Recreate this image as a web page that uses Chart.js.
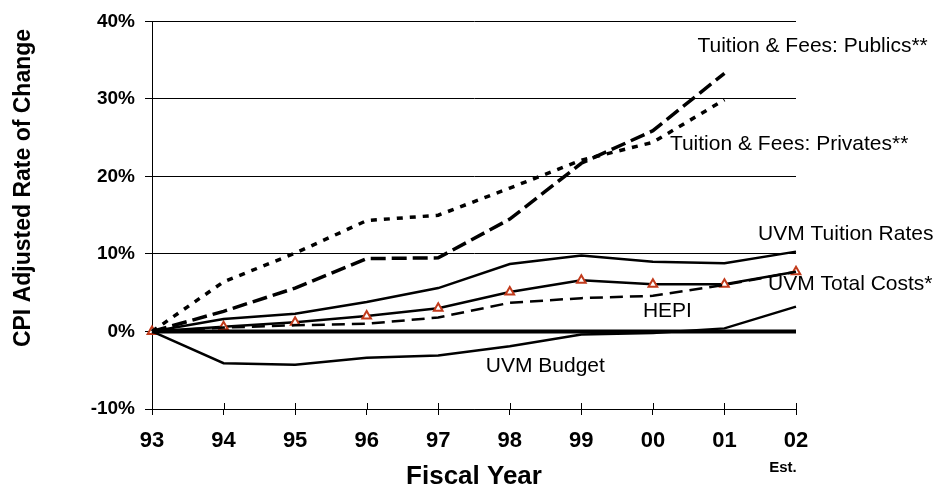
<!DOCTYPE html>
<html>
<head>
<meta charset="utf-8">
<script src="https://cdn.jsdelivr.net/npm/chart.js@4"></script>
<style>
  body { margin: 0; background: #fff; }
  canvas { display: block; }
</style>
</head>
<body>
<canvas id="chart" width="944" height="488"></canvas>
<script>
const years = ["93", "94", "95", "96", "97", "98", "99", "00", "01", "02"];
const publics = [0, 2.6, 5.6, 9.4, 9.5, 14.5, 21.7, 25.9, 33.3, null];
const privates = [0, 6.4, 10.1, 14.3, 15.0, 18.5, 22.1, 24.4, 29.9, null];
const uvmTuition = [0, 1.6, 2.3, 3.8, 5.6, 8.7, 9.8, 9.0, 8.8, 10.3];
const uvmTotal = [0, 0.6, 1.2, 2.0, 3.0, 5.1, 6.6, 6.1, 6.1, 7.7];
const hepi = [0, 0.5, 0.8, 1.0, 1.8, 3.7, 4.3, 4.6, 6.0, 7.7];
const uvmBudget = [0, -4.1, -4.3, -3.4, -3.1, -1.9, -0.4, -0.2, 0.4, 3.2];
const cpiBase = [0, 0, 0, 0, 0, 0, 0, 0, 0, 0];

// series labels, anchored to a category and a value
const seriesLabels = [
  { text: "Tuition & Fees: Publics**", at: "01", value: 36.8, dx: -27 },
  { text: "Tuition & Fees: Privates**", at: "00", value: 24.1, dx: 17 },
  { text: "UVM Tuition Rates", at: "02", value: 12.5, dx: -38 },
  { text: "UVM Total Costs*", at: "02", value: 6.1, dx: -28 },
  { text: "HEPI", at: "00", value: 2.6, dx: -10 },
  { text: "UVM Budget", at: "98", value: -4.5, dx: -24 }
];

const FONT = "'Liberation Sans', Arial, Helvetica, sans-serif";
const markerColor = "#c23b1c";

const line = (data, extra) => ({
  data,
  borderColor: "#000",
  backgroundColor: "#000",
  borderWidth: 2.5,
  pointRadius: 0,
  tension: 0,
  fill: false,
  ...extra
});

const annotations = {
  id: "annotations",
  afterDraw(chart) {
    const { ctx, chartArea, scales } = chart;
    const x = scales.x, y = scales.y;
    ctx.save();
    ctx.fillStyle = "#000";
    ctx.strokeStyle = "#000";

    // x ticks crossing the axis line
    ctx.lineWidth = 1;
    years.forEach((_, i) => {
      const px = Math.round(x.getPixelForTick(i)) + 0.5;
      ctx.beginPath();
      ctx.moveTo(px, chartArea.bottom - 6);
      ctx.lineTo(px, chartArea.bottom);
      ctx.stroke();
    });

    // series labels
    ctx.font = "21px " + FONT;
    ctx.textAlign = "left";
    ctx.textBaseline = "middle";
    seriesLabels.forEach(l => {
      ctx.fillText(l.text, x.getPixelForValue(years.indexOf(l.at)) + l.dx, y.getPixelForValue(l.value));
    });

    // axis titles
    ctx.textAlign = "center";
    ctx.font = "bold 26px " + FONT;
    ctx.fillText("Fiscal Year", (chartArea.left + chartArea.right) / 2, 477);
    ctx.font = "bold 15px " + FONT;
    ctx.fillText("Est.", x.getPixelForValue(years.length - 1) - 13, 468);

    ctx.translate(24, 188);
    ctx.rotate(-Math.PI / 2);
    ctx.font = "bold 23px " + FONT;
    ctx.fillText("CPI Adjusted Rate of Change", 0, 0);
    ctx.restore();
  }
};

new Chart(document.getElementById("chart"), {
  type: "line",
  data: {
    labels: years,
    datasets: [
      line(publics, { borderWidth: 3.5, borderDash: [15, 6] }),
      line(privates, { borderWidth: 3.5, borderDash: [6, 7] }),
      line(uvmTuition),
      line(hepi, { borderDash: [13, 7] }),
      line(uvmBudget),
      line(cpiBase, { borderWidth: 4 }),
      line(uvmTotal, {
        pointRadius: 5,
        pointStyle: "triangle",
        pointBackgroundColor: "#fff",
        pointBorderColor: markerColor,
        pointBorderWidth: 2
      })
    ]
  },
  options: {
    responsive: false,
    animation: false,
    layout: { padding: { top: 17, right: 148, left: 0, bottom: 0 } },
    plugins: {
      legend: { display: false },
      tooltip: { enabled: false }
    },
    scales: {
      x: {
        offset: false,
        grid: {
          drawOnChartArea: false,
          drawTicks: true,
          tickLength: 6,
          color: "#000"
        },
        border: { color: "#000", width: 1 },
        ticks: {
          padding: 13,
          color: "#000",
          maxRotation: 0,
          font: { family: FONT, size: 22, weight: "bold" }
        },
        afterFit: scale => { scale.height = 79; }
      },
      y: {
        min: -10,
        max: 40,
        grid: {
          color: "#000",
          lineWidth: 1,
          tickLength: 7
        },
        border: { color: "#000", width: 1 },
        ticks: {
          stepSize: 10,
          padding: 10,
          color: "#000",
          font: { family: FONT, size: 19, weight: "bold" },
          callback: v => v + "%"
        },
        afterFit: scale => { scale.width = 152; }
      }
    }
  },
  plugins: [annotations]
});
</script>
</body>
</html>
